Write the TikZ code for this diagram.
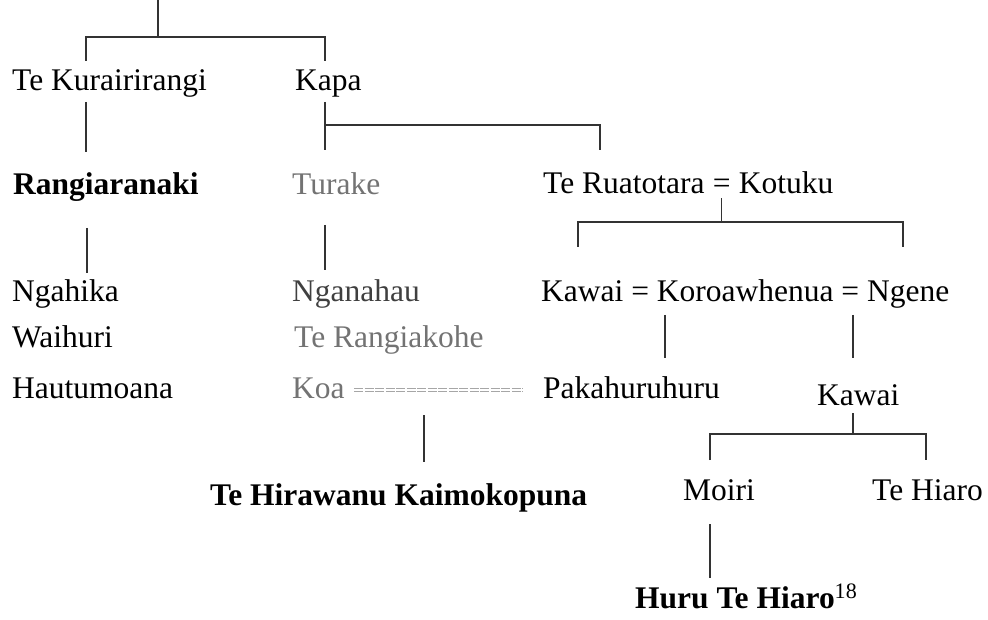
\documentclass[tikz,border=0pt]{standalone}
\usepackage{fontspec}
\setmainfont{Liberation Serif}
\begin{document}
\begin{tikzpicture}[x=1pt,y=-1pt,
  nm/.style={anchor=base west,inner sep=0pt,font=\fontsize{31.5}{36}\selectfont},
  bnm/.style={nm,font=\fontsize{31.5}{36}\selectfont\bfseries},
  gr/.style={text=black!55},
  ln/.style={line width=1.3pt,draw=black!80},
  dbl/.style={double,double distance=2.6pt,line width=0.8pt,draw=black!35,dash pattern=on 9pt off 1.5pt}]
\useasboundingbox (0,0) rectangle (988,620);
% names
\node[nm] (tk) at (12,91) {Te Kurairirangi};
\node[nm] (kapa) at (295,91) {Kapa};
\node[bnm] (rang) at (13,195) {Rangiaranaki};
\node[nm,gr] (tur) at (292,195) {Turake};
\node[nm] (rua) at (543,194) {Te Ruatotara};
\node[nm] (rueq) at ([xshift=7.9pt]rua.base east) {=};
\node[nm] (ruk) at ([xshift=7.9pt]rueq.base east) {Kotuku};
\node[nm] (ngah) at (12,302) {Ngahika};
\node[nm,text=black!75] (ngan) at (292,302) {Nganahau};
\node[nm] (kor) at (541,302) {Kawai = Koroawhenua = Ngene};
\node[nm] (wai) at (12,348) {Waihuri};
\node[nm,gr] (rak) at (294,348) {Te Rangiakohe};
\node[nm] (hau) at (12,398) {Hautumoana};
\node[nm,gr] (koa) at (292,398) {Koa};
\node[nm] (pak) at (543,398) {Pakahuruhuru};
\node[nm] (kaw) at (817,405) {Kawai};
\node[bnm] (hir) at (210,505) {Te Hirawanu Kaimokopuna};
\node[nm] (moi) at (683,500) {Moiri};
\node[nm] (hia) at (872,500) {Te Hiaro};
\node[bnm] (huru) at (635,608) {Huru Te Hiaro\textsuperscript{\mdseries 18}};
% junction coordinates
\coordinate (t0) at (158,0);
\coordinate (t1) at (158,37);
\coordinate (tl) at (86,37);
\coordinate (tr) at (325,37);
\coordinate (tlb) at (86,61);
\coordinate (trb) at (325,61);
\coordinate (tkb) at (86,102);
\coordinate (rangt) at (86,152);
\coordinate (kapb) at (325,102);
\coordinate (kapj) at (325,125);
\coordinate (turt) at (325,150);
\coordinate (rj) at (600,125);
\coordinate (rjb) at (600,150);
\coordinate (ruaj) at (rueq.center |- 0,222);
\coordinate (rl) at (578,222);
\coordinate (rr) at (903,222);
\coordinate (rlb) at (578,247);
\coordinate (rrb) at (903,247);
\coordinate (rangb) at (87,228);
\coordinate (ngaht) at (87,273);
\coordinate (turb) at (325,225);
\coordinate (ngant) at (325,270);
\coordinate (k1t) at (665,315);
\coordinate (k1b) at (665,358);
\coordinate (k2t) at (853,315);
\coordinate (k2b) at (853,358);
\coordinate (koar) at (354,390);
\coordinate (pakl) at (523,390);
\coordinate (hj) at (424,415);
\coordinate (hirt) at (424,462);
\coordinate (kawb) at (853,413);
\coordinate (kawj) at (853,434);
\coordinate (ml) at (710,434);
\coordinate (mr) at (926,434);
\coordinate (mlb) at (710,460);
\coordinate (mrb) at (926,460);
\coordinate (moib) at (710,524);
\coordinate (hurut) at (710,578);
% connectors
\draw[ln] (t0) -- (t1);
\draw[ln] (tlb) -- (tl) -- (tr) -- (trb);
\draw[ln] (tkb) -- (rangt);
\draw[ln] (kapb) -- (turt);
\draw[ln] (kapj) -- (rj) -- (rjb);
\draw[ln] ([yshift=-4pt]rueq.south) -- (ruaj);
\draw[ln] (rlb) -- (rl) -- (rr) -- (rrb);
\draw[ln] (rangb) -- (ngaht);
\draw[ln] (turb) -- (ngant);
\draw[ln] (k1t) -- (k1b);
\draw[ln] (k2t) -- (k2b);
\draw[dbl] (koar) -- (pakl);
\draw[ln] (hj) -- (hirt);
\draw[ln] (kawb) -- (kawj);
\draw[ln] (mlb) -- (ml) -- (mr) -- (mrb);
\draw[ln] (moib) -- (hurut);
\end{tikzpicture}
\end{document}
